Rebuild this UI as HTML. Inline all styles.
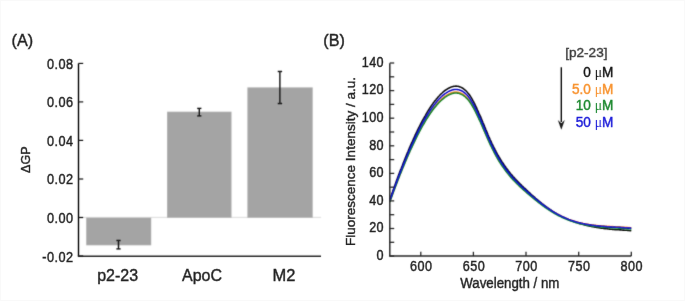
<!DOCTYPE html>
<html><head><meta charset="utf-8"><style>
html,body{margin:0;padding:0;background:#fff;}
body{width:685px;height:301px;overflow:hidden;}
svg{display:block;will-change:transform;}
text{font-family:"Liberation Sans", sans-serif;fill:#1e1e1e;stroke:#1e1e1e;stroke-width:0.38px;}
</style></head><body>
<svg width="685" height="301" viewBox="0 0 685 301">
<defs><filter id="bl" x="0" y="0" width="685" height="301" filterUnits="userSpaceOnUse"><feConvolveMatrix order="3" kernelMatrix="1 4 1 4 16 4 1 4 1" divisor="36" edgeMode="duplicate"/></filter><filter id="bm" x="0" y="0" width="685" height="301" filterUnits="userSpaceOnUse"><feConvolveMatrix order="3" kernelMatrix="1 7 1 7 49 7 1 7 1" divisor="81" edgeMode="none"/></filter><filter id="bt" x="0" y="0" width="685" height="301" filterUnits="userSpaceOnUse"><feConvolveMatrix order="3" kernelMatrix="0 1 0 1 40 1 0 1 0" divisor="44" edgeMode="none"/></filter></defs>
<rect width="685" height="301" fill="#fff"/>
<g filter="url(#bl)">
<rect width="685" height="301" fill="#fff"/>
<line x1="78.5" y1="217.4" x2="321" y2="217.4" stroke="#dadada" stroke-width="1"/>
<rect x="86.2" y="217.7" width="65" height="27.6" fill="#a4a4a4"/>
<rect x="167.1" y="111.7" width="64.4" height="106.0" fill="#a4a4a4"/>
<rect x="247.4" y="87.4" width="65.3" height="130.3" fill="#a4a4a4"/>
</g>
<g filter="url(#bm)">
<path d="M389.8,199.7 L390.4,198.0 L391.0,196.3 L391.6,194.6 L392.2,192.9 L392.8,191.2 L393.4,189.5 L394.0,187.8 L394.6,186.1 L395.2,184.4 L395.8,182.8 L396.4,181.1 L397.0,179.5 L397.6,177.9 L398.2,176.2 L398.8,174.6 L399.4,173.0 L400.0,171.4 L400.6,169.9 L401.3,168.3 L401.9,166.7 L402.5,165.2 L403.1,163.6 L403.7,162.1 L404.3,160.6 L404.9,159.1 L405.5,157.6 L406.1,156.1 L406.7,154.6 L407.3,153.1 L407.9,151.7 L408.5,150.2 L409.1,148.8 L409.7,147.4 L410.3,146.0 L410.9,144.6 L411.5,143.2 L412.2,141.9 L412.8,140.5 L413.4,139.2 L414.0,137.8 L414.6,136.5 L415.2,135.2 L415.8,133.9 L416.4,132.6 L417.0,131.4 L417.6,130.1 L418.2,128.9 L418.8,127.7 L419.4,126.5 L420.0,125.3 L420.6,124.1 L421.2,123.0 L421.8,121.8 L422.4,120.7 L423.0,119.6 L423.7,118.5 L424.3,117.4 L424.9,116.3 L425.5,115.3 L426.1,114.2 L426.7,113.2 L427.3,112.2 L427.9,111.2 L428.5,110.2 L429.1,109.3 L429.7,108.3 L430.3,107.4 L430.9,106.5 L431.5,105.6 L432.1,104.7 L432.7,103.9 L433.3,103.0 L433.9,102.2 L434.5,101.4 L435.2,100.6 L435.8,99.9 L436.4,99.1 L437.0,98.4 L437.6,97.7 L438.2,97.0 L438.8,96.3 L439.4,95.7 L440.0,95.0 L440.6,94.4 L441.2,93.8 L441.8,93.3 L442.4,92.7 L443.0,92.2 L443.6,91.7 L444.2,91.2 L444.8,90.7 L445.4,90.2 L446.1,89.8 L446.7,89.4 L447.3,89.0 L447.9,88.6 L448.5,88.3 L449.1,88.0 L449.7,87.7 L450.3,87.4 L450.9,87.1 L451.5,86.9 L452.1,86.7 L452.7,86.6 L453.3,86.4 L453.9,86.3 L454.5,86.2 L455.1,86.2 L455.7,86.1 L456.3,86.1 L456.9,86.2 L457.6,86.2 L458.2,86.3 L458.8,86.5 L459.4,86.7 L460.0,86.9 L460.6,87.1 L461.2,87.4 L461.8,87.7 L462.4,88.0 L463.0,88.4 L463.6,88.8 L464.2,89.3 L464.8,89.8 L465.4,90.3 L466.0,90.9 L466.6,91.5 L467.2,92.2 L467.8,92.9 L468.5,93.7 L469.1,94.5 L469.7,95.3 L470.3,96.2 L470.9,97.2 L471.5,98.2 L472.1,99.2 L472.7,100.3 L473.3,101.4 L473.9,102.5 L474.5,103.7 L475.1,104.9 L475.7,106.2 L476.3,107.4 L476.9,108.7 L477.5,110.1 L478.1,111.4 L478.7,112.8 L479.3,114.1 L480.0,115.5 L480.6,116.9 L481.2,118.4 L481.8,119.8 L482.4,121.2 L483.0,122.7 L483.6,124.1 L484.2,125.6 L484.8,127.1 L485.4,128.5 L486.0,130.0 L486.6,131.4 L487.2,132.8 L487.8,134.3 L488.4,135.7 L489.0,137.1 L489.6,138.4 L490.2,139.8 L490.9,141.1 L491.5,142.5 L492.1,143.8 L492.7,145.0 L493.3,146.3 L493.9,147.5 L494.5,148.7 L495.1,149.9 L495.7,151.0 L496.3,152.2 L496.9,153.3 L497.5,154.4 L498.1,155.4 L498.7,156.5 L499.3,157.5 L499.9,158.5 L500.5,159.5 L501.1,160.5 L501.7,161.5 L502.4,162.4 L503.0,163.3 L503.6,164.2 L504.2,165.1 L504.8,166.0 L505.4,166.8 L506.0,167.7 L506.6,168.5 L507.2,169.3 L507.8,170.1 L508.4,170.9 L509.0,171.6 L509.6,172.4 L510.2,173.1 L510.8,173.9 L511.4,174.6 L512.0,175.3 L512.6,176.0 L513.2,176.7 L513.9,177.4 L514.5,178.0 L515.1,178.7 L515.7,179.3 L516.3,180.0 L516.9,180.6 L517.5,181.2 L518.1,181.9 L518.7,182.5 L519.3,183.1 L519.9,183.7 L520.5,184.3 L521.1,184.9 L521.7,185.5 L522.3,186.0 L522.9,186.6 L523.5,187.2 L524.1,187.8 L524.8,188.4 L525.4,188.9 L526.0,189.5 L526.6,190.1 L527.2,190.6 L527.8,191.2 L528.4,191.8 L529.0,192.3 L529.6,192.9 L530.2,193.4 L530.8,194.0 L531.4,194.5 L532.0,195.1 L532.6,195.6 L533.2,196.1 L533.8,196.7 L534.4,197.2 L535.0,197.7 L535.6,198.3 L536.3,198.8 L536.9,199.3 L537.5,199.8 L538.1,200.3 L538.7,200.8 L539.3,201.3 L539.9,201.8 L540.5,202.3 L541.1,202.8 L541.7,203.3 L542.3,203.8 L542.9,204.2 L543.5,204.7 L544.1,205.2 L544.7,205.6 L545.3,206.1 L545.9,206.5 L546.5,207.0 L547.2,207.4 L547.8,207.9 L548.4,208.3 L549.0,208.7 L549.6,209.1 L550.2,209.6 L550.8,210.0 L551.4,210.4 L552.0,210.8 L552.6,211.2 L553.2,211.6 L553.8,211.9 L554.4,212.3 L555.0,212.7 L555.6,213.0 L556.2,213.4 L556.8,213.8 L557.4,214.1 L558.0,214.4 L558.7,214.8 L559.3,215.1 L559.9,215.4 L560.5,215.8 L561.1,216.1 L561.7,216.4 L562.3,216.7 L562.9,217.0 L563.5,217.3 L564.1,217.6 L564.7,217.8 L565.3,218.1 L565.9,218.4 L566.5,218.7 L567.1,218.9 L567.7,219.2 L568.3,219.5 L568.9,219.7 L569.6,220.0 L570.2,220.2 L570.8,220.4 L571.4,220.7 L572.0,220.9 L572.6,221.1 L573.2,221.4 L573.8,221.6 L574.4,221.8 L575.0,222.0 L575.6,222.2 L576.2,222.4 L576.8,222.6 L577.4,222.8 L578.0,223.0 L578.6,223.2 L579.2,223.4 L579.8,223.6 L580.4,223.7 L581.1,223.9 L581.7,224.1 L582.3,224.3 L582.9,224.4 L583.5,224.6 L584.1,224.8 L584.7,224.9 L585.3,225.1 L585.9,225.2 L586.5,225.4 L587.1,225.5 L587.7,225.7 L588.3,225.8 L588.9,225.9 L589.5,226.1 L590.1,226.2 L590.7,226.3 L591.3,226.4 L591.9,226.6 L592.6,226.7 L593.2,226.8 L593.8,226.9 L594.4,227.0 L595.0,227.1 L595.6,227.2 L596.2,227.3 L596.8,227.5 L597.4,227.5 L598.0,227.6 L598.6,227.7 L599.2,227.8 L599.8,227.9 L600.4,228.0 L601.0,228.1 L601.6,228.2 L602.2,228.3 L602.8,228.3 L603.5,228.4 L604.1,228.5 L604.7,228.6 L605.3,228.6 L605.9,228.7 L606.5,228.8 L607.1,228.8 L607.7,228.9 L608.3,229.0 L608.9,229.0 L609.5,229.1 L610.1,229.1 L610.7,229.2 L611.3,229.3 L611.9,229.3 L612.5,229.4 L613.1,229.4 L613.7,229.5 L614.3,229.5 L615.0,229.6 L615.6,229.6 L616.2,229.6 L616.8,229.7 L617.4,229.7 L618.0,229.8 L618.6,229.8 L619.2,229.8 L619.8,229.9 L620.4,229.9 L621.0,229.9 L621.6,230.0 L622.2,230.0 L622.8,230.1 L623.4,230.1 L624.0,230.1 L624.6,230.2 L625.2,230.2 L625.9,230.2 L626.5,230.3 L627.1,230.3 L627.7,230.4 L628.3,230.4 L628.9,230.5 L629.5,230.5 L630.1,230.6 L630.7,230.6 L631.3,230.7" fill="none" stroke="#111111" stroke-width="1.6" stroke-linejoin="round"/>
<path d="M389.8,201.7 L390.4,200.0 L391.0,198.4 L391.6,196.7 L392.2,195.1 L392.8,193.4 L393.4,191.8 L394.0,190.2 L394.6,188.5 L395.2,186.9 L395.8,185.3 L396.4,183.7 L397.0,182.2 L397.6,180.6 L398.2,179.0 L398.8,177.5 L399.4,175.9 L400.0,174.4 L400.6,172.9 L401.3,171.3 L401.9,169.8 L402.5,168.3 L403.1,166.8 L403.7,165.4 L404.3,163.9 L404.9,162.4 L405.5,161.0 L406.1,159.6 L406.7,158.1 L407.3,156.7 L407.9,155.3 L408.5,153.9 L409.1,152.6 L409.7,151.2 L410.3,149.8 L410.9,148.5 L411.5,147.2 L412.2,145.8 L412.8,144.5 L413.4,143.2 L414.0,141.9 L414.6,140.7 L415.2,139.4 L415.8,138.2 L416.4,136.9 L417.0,135.7 L417.6,134.5 L418.2,133.3 L418.8,132.2 L419.4,131.0 L420.0,129.8 L420.6,128.7 L421.2,127.6 L421.8,126.5 L422.4,125.4 L423.0,124.3 L423.7,123.3 L424.3,122.2 L424.9,121.2 L425.5,120.2 L426.1,119.2 L426.7,118.2 L427.3,117.2 L427.9,116.2 L428.5,115.3 L429.1,114.4 L429.7,113.5 L430.3,112.6 L430.9,111.7 L431.5,110.8 L432.1,110.0 L432.7,109.2 L433.3,108.4 L433.9,107.6 L434.5,106.8 L435.2,106.1 L435.8,105.3 L436.4,104.6 L437.0,103.9 L437.6,103.2 L438.2,102.5 L438.8,101.9 L439.4,101.3 L440.0,100.7 L440.6,100.1 L441.2,99.5 L441.8,98.9 L442.4,98.4 L443.0,97.9 L443.6,97.4 L444.2,96.9 L444.8,96.4 L445.4,96.0 L446.1,95.6 L446.7,95.2 L447.3,94.8 L447.9,94.5 L448.5,94.1 L449.1,93.8 L449.7,93.5 L450.3,93.3 L450.9,93.0 L451.5,92.8 L452.1,92.6 L452.7,92.5 L453.3,92.3 L453.9,92.2 L454.5,92.1 L455.1,92.1 L455.7,92.1 L456.3,92.1 L456.9,92.1 L457.6,92.2 L458.2,92.3 L458.8,92.4 L459.4,92.6 L460.0,92.7 L460.6,93.0 L461.2,93.2 L461.8,93.5 L462.4,93.9 L463.0,94.2 L463.6,94.7 L464.2,95.1 L464.8,95.6 L465.4,96.1 L466.0,96.7 L466.6,97.3 L467.2,97.9 L467.8,98.6 L468.5,99.3 L469.1,100.1 L469.7,100.9 L470.3,101.8 L470.9,102.7 L471.5,103.7 L472.1,104.7 L472.7,105.7 L473.3,106.8 L473.9,107.9 L474.5,109.0 L475.1,110.2 L475.7,111.4 L476.3,112.6 L476.9,113.9 L477.5,115.1 L478.1,116.4 L478.7,117.8 L479.3,119.1 L480.0,120.4 L480.6,121.8 L481.2,123.2 L481.8,124.6 L482.4,125.9 L483.0,127.3 L483.6,128.7 L484.2,130.1 L484.8,131.6 L485.4,133.0 L486.0,134.3 L486.6,135.7 L487.2,137.1 L487.8,138.5 L488.4,139.9 L489.0,141.2 L489.6,142.5 L490.2,143.8 L490.9,145.1 L491.5,146.4 L492.1,147.7 L492.7,148.9 L493.3,150.1 L493.9,151.3 L494.5,152.4 L495.1,153.6 L495.7,154.7 L496.3,155.8 L496.9,156.9 L497.5,157.9 L498.1,158.9 L498.7,160.0 L499.3,161.0 L499.9,161.9 L500.5,162.9 L501.1,163.8 L501.7,164.7 L502.4,165.7 L503.0,166.5 L503.6,167.4 L504.2,168.3 L504.8,169.1 L505.4,169.9 L506.0,170.7 L506.6,171.5 L507.2,172.3 L507.8,173.1 L508.4,173.8 L509.0,174.6 L509.6,175.3 L510.2,176.0 L510.8,176.7 L511.4,177.4 L512.0,178.1 L512.6,178.8 L513.2,179.5 L513.9,180.1 L514.5,180.8 L515.1,181.4 L515.7,182.0 L516.3,182.6 L516.9,183.2 L517.5,183.8 L518.1,184.4 L518.7,185.0 L519.3,185.6 L519.9,186.2 L520.5,186.7 L521.1,187.3 L521.7,187.8 L522.3,188.4 L522.9,188.9 L523.5,189.5 L524.1,190.0 L524.8,190.5 L525.4,191.1 L526.0,191.6 L526.6,192.1 L527.2,192.6 L527.8,193.2 L528.4,193.7 L529.0,194.2 L529.6,194.7 L530.2,195.2 L530.8,195.7 L531.4,196.2 L532.0,196.7 L532.6,197.2 L533.2,197.7 L533.8,198.2 L534.4,198.7 L535.0,199.1 L535.6,199.6 L536.3,200.1 L536.9,200.6 L537.5,201.0 L538.1,201.5 L538.7,202.0 L539.3,202.4 L539.9,202.9 L540.5,203.3 L541.1,203.8 L541.7,204.2 L542.3,204.7 L542.9,205.1 L543.5,205.5 L544.1,205.9 L544.7,206.4 L545.3,206.8 L545.9,207.2 L546.5,207.6 L547.2,208.0 L547.8,208.4 L548.4,208.8 L549.0,209.2 L549.6,209.6 L550.2,210.0 L550.8,210.4 L551.4,210.8 L552.0,211.1 L552.6,211.5 L553.2,211.9 L553.8,212.2 L554.4,212.6 L555.0,212.9 L555.6,213.3 L556.2,213.6 L556.8,213.9 L557.4,214.3 L558.0,214.6 L558.7,214.9 L559.3,215.2 L559.9,215.5 L560.5,215.8 L561.1,216.1 L561.7,216.4 L562.3,216.7 L562.9,217.0 L563.5,217.2 L564.1,217.5 L564.7,217.8 L565.3,218.0 L565.9,218.3 L566.5,218.5 L567.1,218.8 L567.7,219.0 L568.3,219.2 L568.9,219.5 L569.6,219.7 L570.2,219.9 L570.8,220.1 L571.4,220.3 L572.0,220.5 L572.6,220.7 L573.2,220.9 L573.8,221.1 L574.4,221.3 L575.0,221.5 L575.6,221.6 L576.2,221.8 L576.8,222.0 L577.4,222.1 L578.0,222.3 L578.6,222.4 L579.2,222.6 L579.8,222.7 L580.4,222.9 L581.1,223.0 L581.7,223.2 L582.3,223.3 L582.9,223.4 L583.5,223.5 L584.1,223.7 L584.7,223.8 L585.3,223.9 L585.9,224.0 L586.5,224.1 L587.1,224.2 L587.7,224.3 L588.3,224.4 L588.9,224.5 L589.5,224.6 L590.1,224.7 L590.7,224.8 L591.3,224.9 L591.9,224.9 L592.6,225.0 L593.2,225.1 L593.8,225.2 L594.4,225.2 L595.0,225.3 L595.6,225.4 L596.2,225.4 L596.8,225.5 L597.4,225.6 L598.0,225.6 L598.6,225.7 L599.2,225.7 L599.8,225.8 L600.4,225.8 L601.0,225.9 L601.6,225.9 L602.2,226.0 L602.8,226.0 L603.5,226.1 L604.1,226.1 L604.7,226.1 L605.3,226.2 L605.9,226.2 L606.5,226.3 L607.1,226.3 L607.7,226.3 L608.3,226.4 L608.9,226.4 L609.5,226.4 L610.1,226.5 L610.7,226.5 L611.3,226.5 L611.9,226.6 L612.5,226.6 L613.1,226.6 L613.7,226.7 L614.3,226.7 L615.0,226.7 L615.6,226.8 L616.2,226.8 L616.8,226.8 L617.4,226.9 L618.0,226.9 L618.6,226.9 L619.2,226.9 L619.8,227.0 L620.4,227.0 L621.0,227.1 L621.6,227.1 L622.2,227.1 L622.8,227.2 L623.4,227.2 L624.0,227.2 L624.6,227.3 L625.2,227.3 L625.9,227.3 L626.5,227.4 L627.1,227.4 L627.7,227.5 L628.3,227.5 L628.9,227.6 L629.5,227.6 L630.1,227.7 L630.7,227.7 L631.3,227.8" fill="none" stroke="#f8902a" stroke-width="1.6" stroke-linejoin="round"/>
<path d="M389.8,202.0 L390.4,200.3 L391.0,198.7 L391.6,197.0 L392.2,195.4 L392.8,193.8 L393.4,192.1 L394.0,190.5 L394.6,188.9 L395.2,187.3 L395.8,185.7 L396.4,184.2 L397.0,182.6 L397.6,181.0 L398.2,179.5 L398.8,177.9 L399.4,176.4 L400.0,174.8 L400.6,173.3 L401.3,171.8 L401.9,170.3 L402.5,168.8 L403.1,167.3 L403.7,165.9 L404.3,164.4 L404.9,163.0 L405.5,161.5 L406.1,160.1 L406.7,158.7 L407.3,157.3 L407.9,155.9 L408.5,154.5 L409.1,153.1 L409.7,151.8 L410.3,150.4 L410.9,149.1 L411.5,147.8 L412.2,146.5 L412.8,145.2 L413.4,143.9 L414.0,142.6 L414.6,141.3 L415.2,140.1 L415.8,138.8 L416.4,137.6 L417.0,136.4 L417.6,135.2 L418.2,134.0 L418.8,132.9 L419.4,131.7 L420.0,130.6 L420.6,129.4 L421.2,128.3 L421.8,127.2 L422.4,126.1 L423.0,125.1 L423.7,124.0 L424.3,123.0 L424.9,121.9 L425.5,120.9 L426.1,119.9 L426.7,118.9 L427.3,118.0 L427.9,117.0 L428.5,116.1 L429.1,115.2 L429.7,114.3 L430.3,113.4 L430.9,112.5 L431.5,111.7 L432.1,110.8 L432.7,110.0 L433.3,109.2 L433.9,108.4 L434.5,107.6 L435.2,106.9 L435.8,106.2 L436.4,105.4 L437.0,104.7 L437.6,104.1 L438.2,103.4 L438.8,102.8 L439.4,102.1 L440.0,101.5 L440.6,100.9 L441.2,100.4 L441.8,99.8 L442.4,99.3 L443.0,98.8 L443.6,98.3 L444.2,97.8 L444.8,97.3 L445.4,96.9 L446.1,96.5 L446.7,96.1 L447.3,95.7 L447.9,95.4 L448.5,95.0 L449.1,94.7 L449.7,94.4 L450.3,94.2 L450.9,93.9 L451.5,93.7 L452.1,93.5 L452.7,93.4 L453.3,93.2 L453.9,93.1 L454.5,93.0 L455.1,93.0 L455.7,93.0 L456.3,93.0 L456.9,93.0 L457.6,93.1 L458.2,93.2 L458.8,93.3 L459.4,93.5 L460.0,93.7 L460.6,93.9 L461.2,94.2 L461.8,94.4 L462.4,94.8 L463.0,95.2 L463.6,95.6 L464.2,96.0 L464.8,96.5 L465.4,97.0 L466.0,97.6 L466.6,98.2 L467.2,98.8 L467.8,99.5 L468.5,100.2 L469.1,101.0 L469.7,101.8 L470.3,102.7 L470.9,103.6 L471.5,104.5 L472.1,105.5 L472.7,106.5 L473.3,107.6 L473.9,108.7 L474.5,109.8 L475.1,111.0 L475.7,112.2 L476.3,113.4 L476.9,114.7 L477.5,115.9 L478.1,117.2 L478.7,118.5 L479.3,119.9 L480.0,121.2 L480.6,122.5 L481.2,123.9 L481.8,125.3 L482.4,126.7 L483.0,128.1 L483.6,129.5 L484.2,130.9 L484.8,132.2 L485.4,133.6 L486.0,135.0 L486.6,136.4 L487.2,137.8 L487.8,139.2 L488.4,140.5 L489.0,141.8 L489.6,143.2 L490.2,144.5 L490.9,145.8 L491.5,147.0 L492.1,148.3 L492.7,149.5 L493.3,150.7 L493.9,151.9 L494.5,153.0 L495.1,154.1 L495.7,155.3 L496.3,156.3 L496.9,157.4 L497.5,158.5 L498.1,159.5 L498.7,160.5 L499.3,161.5 L499.9,162.5 L500.5,163.4 L501.1,164.3 L501.7,165.3 L502.4,166.2 L503.0,167.0 L503.6,167.9 L504.2,168.8 L504.8,169.6 L505.4,170.4 L506.0,171.2 L506.6,172.0 L507.2,172.8 L507.8,173.6 L508.4,174.3 L509.0,175.0 L509.6,175.8 L510.2,176.5 L510.8,177.2 L511.4,177.9 L512.0,178.6 L512.6,179.2 L513.2,179.9 L513.9,180.5 L514.5,181.2 L515.1,181.8 L515.7,182.4 L516.3,183.0 L516.9,183.6 L517.5,184.2 L518.1,184.8 L518.7,185.4 L519.3,186.0 L519.9,186.6 L520.5,187.1 L521.1,187.7 L521.7,188.2 L522.3,188.8 L522.9,189.3 L523.5,189.9 L524.1,190.4 L524.8,191.0 L525.4,191.5 L526.0,192.0 L526.6,192.6 L527.2,193.1 L527.8,193.6 L528.4,194.1 L529.0,194.7 L529.6,195.2 L530.2,195.7 L530.8,196.2 L531.4,196.7 L532.0,197.2 L532.6,197.7 L533.2,198.2 L533.8,198.7 L534.4,199.2 L535.0,199.7 L535.6,200.2 L536.3,200.7 L536.9,201.2 L537.5,201.6 L538.1,202.1 L538.7,202.6 L539.3,203.0 L539.9,203.5 L540.5,204.0 L541.1,204.4 L541.7,204.9 L542.3,205.3 L542.9,205.8 L543.5,206.2 L544.1,206.6 L544.7,207.1 L545.3,207.5 L545.9,207.9 L546.5,208.3 L547.2,208.8 L547.8,209.2 L548.4,209.6 L549.0,210.0 L549.6,210.4 L550.2,210.8 L550.8,211.2 L551.4,211.5 L552.0,211.9 L552.6,212.3 L553.2,212.6 L553.8,213.0 L554.4,213.4 L555.0,213.7 L555.6,214.0 L556.2,214.4 L556.8,214.7 L557.4,215.0 L558.0,215.4 L558.7,215.7 L559.3,216.0 L559.9,216.3 L560.5,216.6 L561.1,216.9 L561.7,217.2 L562.3,217.5 L562.9,217.7 L563.5,218.0 L564.1,218.3 L564.7,218.5 L565.3,218.8 L565.9,219.1 L566.5,219.3 L567.1,219.5 L567.7,219.8 L568.3,220.0 L568.9,220.3 L569.6,220.5 L570.2,220.7 L570.8,220.9 L571.4,221.1 L572.0,221.3 L572.6,221.5 L573.2,221.7 L573.8,221.9 L574.4,222.1 L575.0,222.3 L575.6,222.5 L576.2,222.7 L576.8,222.8 L577.4,223.0 L578.0,223.2 L578.6,223.3 L579.2,223.5 L579.8,223.6 L580.4,223.8 L581.1,223.9 L581.7,224.1 L582.3,224.2 L582.9,224.3 L583.5,224.4 L584.1,224.6 L584.7,224.7 L585.3,224.8 L585.9,224.9 L586.5,225.0 L587.1,225.2 L587.7,225.3 L588.3,225.4 L588.9,225.5 L589.5,225.6 L590.1,225.7 L590.7,225.7 L591.3,225.8 L591.9,225.9 L592.6,226.0 L593.2,226.1 L593.8,226.2 L594.4,226.2 L595.0,226.3 L595.6,226.4 L596.2,226.5 L596.8,226.5 L597.4,226.6 L598.0,226.7 L598.6,226.7 L599.2,226.8 L599.8,226.8 L600.4,226.9 L601.0,226.9 L601.6,227.0 L602.2,227.1 L602.8,227.1 L603.5,227.2 L604.1,227.2 L604.7,227.2 L605.3,227.3 L605.9,227.3 L606.5,227.4 L607.1,227.4 L607.7,227.5 L608.3,227.5 L608.9,227.5 L609.5,227.6 L610.1,227.6 L610.7,227.6 L611.3,227.7 L611.9,227.7 L612.5,227.8 L613.1,227.8 L613.7,227.8 L614.3,227.9 L615.0,227.9 L615.6,227.9 L616.2,228.0 L616.8,228.0 L617.4,228.0 L618.0,228.1 L618.6,228.1 L619.2,228.1 L619.8,228.2 L620.4,228.2 L621.0,228.2 L621.6,228.3 L622.2,228.3 L622.8,228.3 L623.4,228.4 L624.0,228.4 L624.6,228.4 L625.2,228.5 L625.9,228.5 L626.5,228.6 L627.1,228.6 L627.7,228.6 L628.3,228.7 L628.9,228.7 L629.5,228.8 L630.1,228.8 L630.7,228.9 L631.3,228.9" fill="none" stroke="#18862a" stroke-width="1.6" stroke-linejoin="round"/>
<path d="M389.8,200.8 L390.4,199.1 L391.0,197.5 L391.6,195.8 L392.2,194.1 L392.8,192.4 L393.4,190.8 L394.0,189.1 L394.6,187.5 L395.2,185.8 L395.8,184.2 L396.4,182.6 L397.0,181.0 L397.6,179.4 L398.2,177.8 L398.8,176.2 L399.4,174.7 L400.0,173.1 L400.6,171.5 L401.3,170.0 L401.9,168.5 L402.5,167.0 L403.1,165.4 L403.7,163.9 L404.3,162.4 L404.9,161.0 L405.5,159.5 L406.1,158.0 L406.7,156.6 L407.3,155.2 L407.9,153.7 L408.5,152.3 L409.1,150.9 L409.7,149.5 L410.3,148.2 L410.9,146.8 L411.5,145.4 L412.2,144.1 L412.8,142.8 L413.4,141.5 L414.0,140.2 L414.6,138.9 L415.2,137.6 L415.8,136.3 L416.4,135.1 L417.0,133.8 L417.6,132.6 L418.2,131.4 L418.8,130.2 L419.4,129.0 L420.0,127.9 L420.6,126.7 L421.2,125.6 L421.8,124.4 L422.4,123.3 L423.0,122.2 L423.7,121.2 L424.3,120.1 L424.9,119.0 L425.5,118.0 L426.1,117.0 L426.7,116.0 L427.3,115.0 L427.9,114.0 L428.5,113.1 L429.1,112.1 L429.7,111.2 L430.3,110.3 L430.9,109.4 L431.5,108.6 L432.1,107.7 L432.7,106.9 L433.3,106.0 L433.9,105.2 L434.5,104.5 L435.2,103.7 L435.8,102.9 L436.4,102.2 L437.0,101.5 L437.6,100.8 L438.2,100.1 L438.8,99.5 L439.4,98.8 L440.0,98.2 L440.6,97.6 L441.2,97.0 L441.8,96.5 L442.4,95.9 L443.0,95.4 L443.6,94.9 L444.2,94.4 L444.8,93.9 L445.4,93.5 L446.1,93.1 L446.7,92.7 L447.3,92.3 L447.9,91.9 L448.5,91.6 L449.1,91.3 L449.7,91.0 L450.3,90.7 L450.9,90.5 L451.5,90.2 L452.1,90.0 L452.7,89.9 L453.3,89.7 L453.9,89.6 L454.5,89.5 L455.1,89.5 L455.7,89.5 L456.3,89.5 L456.9,89.5 L457.6,89.6 L458.2,89.7 L458.8,89.8 L459.4,90.0 L460.0,90.2 L460.6,90.4 L461.2,90.7 L461.8,91.0 L462.4,91.3 L463.0,91.7 L463.6,92.1 L464.2,92.6 L464.8,93.1 L465.4,93.6 L466.0,94.2 L466.6,94.8 L467.2,95.4 L467.8,96.1 L468.5,96.9 L469.1,97.7 L469.7,98.5 L470.3,99.4 L470.9,100.3 L471.5,101.3 L472.1,102.3 L472.7,103.3 L473.3,104.4 L473.9,105.5 L474.5,106.7 L475.1,107.9 L475.7,109.1 L476.3,110.4 L476.9,111.6 L477.5,112.9 L478.1,114.2 L478.7,115.6 L479.3,116.9 L480.0,118.3 L480.6,119.7 L481.2,121.1 L481.8,122.5 L482.4,123.9 L483.0,125.3 L483.6,126.7 L484.2,128.2 L484.8,129.6 L485.4,131.0 L486.0,132.4 L486.6,133.8 L487.2,135.2 L487.8,136.6 L488.4,138.0 L489.0,139.4 L489.6,140.7 L490.2,142.1 L490.9,143.4 L491.5,144.7 L492.1,146.0 L492.7,147.2 L493.3,148.4 L493.9,149.6 L494.5,150.8 L495.1,152.0 L495.7,153.1 L496.3,154.2 L496.9,155.3 L497.5,156.4 L498.1,157.4 L498.7,158.4 L499.3,159.5 L499.9,160.4 L500.5,161.4 L501.1,162.4 L501.7,163.3 L502.4,164.2 L503.0,165.1 L503.6,166.0 L504.2,166.9 L504.8,167.7 L505.4,168.6 L506.0,169.4 L506.6,170.2 L507.2,171.0 L507.8,171.8 L508.4,172.6 L509.0,173.3 L509.6,174.0 L510.2,174.8 L510.8,175.5 L511.4,176.2 L512.0,176.9 L512.6,177.6 L513.2,178.2 L513.9,178.9 L514.5,179.6 L515.1,180.2 L515.7,180.8 L516.3,181.5 L516.9,182.1 L517.5,182.7 L518.1,183.3 L518.7,183.9 L519.3,184.5 L519.9,185.1 L520.5,185.7 L521.1,186.2 L521.7,186.8 L522.3,187.4 L522.9,187.9 L523.5,188.5 L524.1,189.0 L524.8,189.6 L525.4,190.1 L526.0,190.7 L526.6,191.2 L527.2,191.8 L527.8,192.3 L528.4,192.8 L529.0,193.4 L529.6,193.9 L530.2,194.4 L530.8,194.9 L531.4,195.5 L532.0,196.0 L532.6,196.5 L533.2,197.0 L533.8,197.5 L534.4,198.0 L535.0,198.5 L535.6,199.0 L536.3,199.5 L536.9,200.0 L537.5,200.5 L538.1,201.0 L538.7,201.5 L539.3,201.9 L539.9,202.4 L540.5,202.9 L541.1,203.3 L541.7,203.8 L542.3,204.3 L542.9,204.7 L543.5,205.2 L544.1,205.6 L544.7,206.0 L545.3,206.5 L545.9,206.9 L546.5,207.3 L547.2,207.8 L547.8,208.2 L548.4,208.6 L549.0,209.0 L549.6,209.4 L550.2,209.8 L550.8,210.2 L551.4,210.6 L552.0,211.0 L552.6,211.4 L553.2,211.7 L553.8,212.1 L554.4,212.5 L555.0,212.8 L555.6,213.2 L556.2,213.5 L556.8,213.9 L557.4,214.2 L558.0,214.5 L558.7,214.8 L559.3,215.2 L559.9,215.5 L560.5,215.8 L561.1,216.1 L561.7,216.4 L562.3,216.7 L562.9,217.0 L563.5,217.2 L564.1,217.5 L564.7,217.8 L565.3,218.0 L565.9,218.3 L566.5,218.5 L567.1,218.8 L567.7,219.0 L568.3,219.3 L568.9,219.5 L569.6,219.7 L570.2,219.9 L570.8,220.2 L571.4,220.4 L572.0,220.6 L572.6,220.8 L573.2,221.0 L573.8,221.2 L574.4,221.4 L575.0,221.5 L575.6,221.7 L576.2,221.9 L576.8,222.1 L577.4,222.2 L578.0,222.4 L578.6,222.6 L579.2,222.7 L579.8,222.9 L580.4,223.0 L581.1,223.2 L581.7,223.3 L582.3,223.4 L582.9,223.6 L583.5,223.7 L584.1,223.8 L584.7,223.9 L585.3,224.1 L585.9,224.2 L586.5,224.3 L587.1,224.4 L587.7,224.5 L588.3,224.6 L588.9,224.7 L589.5,224.8 L590.1,224.9 L590.7,225.0 L591.3,225.1 L591.9,225.2 L592.6,225.2 L593.2,225.3 L593.8,225.4 L594.4,225.5 L595.0,225.6 L595.6,225.6 L596.2,225.7 L596.8,225.8 L597.4,225.8 L598.0,225.9 L598.6,226.0 L599.2,226.0 L599.8,226.1 L600.4,226.1 L601.0,226.2 L601.6,226.2 L602.2,226.3 L602.8,226.3 L603.5,226.4 L604.1,226.4 L604.7,226.5 L605.3,226.5 L605.9,226.6 L606.5,226.6 L607.1,226.7 L607.7,226.7 L608.3,226.7 L608.9,226.8 L609.5,226.8 L610.1,226.9 L610.7,226.9 L611.3,226.9 L611.9,227.0 L612.5,227.0 L613.1,227.0 L613.7,227.1 L614.3,227.1 L615.0,227.1 L615.6,227.2 L616.2,227.2 L616.8,227.2 L617.4,227.3 L618.0,227.3 L618.6,227.3 L619.2,227.4 L619.8,227.4 L620.4,227.4 L621.0,227.5 L621.6,227.5 L622.2,227.5 L622.8,227.6 L623.4,227.6 L624.0,227.6 L624.6,227.7 L625.2,227.7 L625.9,227.8 L626.5,227.8 L627.1,227.8 L627.7,227.9 L628.3,227.9 L628.9,228.0 L629.5,228.0 L630.1,228.1 L630.7,228.1 L631.3,228.2" fill="none" stroke="#0c0cc8" stroke-width="1.6" stroke-linejoin="round"/>
<line x1="118.5" y1="240.5" x2="118.5" y2="248.9" stroke="#1a1a1a" stroke-width="1.45"/><line x1="116.4" y1="240.5" x2="120.6" y2="240.5" stroke="#1a1a1a" stroke-width="1.45"/><line x1="116.4" y1="248.9" x2="120.6" y2="248.9" stroke="#1a1a1a" stroke-width="1.45"/>
<line x1="199.3" y1="108.4" x2="199.3" y2="115.9" stroke="#1a1a1a" stroke-width="1.45"/><line x1="197.20000000000002" y1="108.4" x2="201.4" y2="108.4" stroke="#1a1a1a" stroke-width="1.45"/><line x1="197.20000000000002" y1="115.9" x2="201.4" y2="115.9" stroke="#1a1a1a" stroke-width="1.45"/>
<line x1="279.9" y1="71.5" x2="279.9" y2="103.5" stroke="#1a1a1a" stroke-width="1.45"/><line x1="277.7" y1="71.5" x2="282.09999999999997" y2="71.5" stroke="#1a1a1a" stroke-width="1.45"/><line x1="277.7" y1="103.5" x2="282.09999999999997" y2="103.5" stroke="#1a1a1a" stroke-width="1.45"/>
<path d="M78.5,63.4 V256.1" fill="none" stroke="#000" stroke-width="1.4"/>
<path d="M77.8,256.2 H321" fill="none" stroke="#2a2a2a" stroke-width="1.5"/>
<line x1="78.5" y1="63.4" x2="83.2" y2="63.4" stroke="#1a1a1a" stroke-width="1.2"/>
<line x1="78.5" y1="101.9" x2="83.2" y2="101.9" stroke="#1a1a1a" stroke-width="1.2"/>
<line x1="78.5" y1="140.4" x2="83.2" y2="140.4" stroke="#1a1a1a" stroke-width="1.2"/>
<line x1="78.5" y1="179.0" x2="83.2" y2="179.0" stroke="#1a1a1a" stroke-width="1.2"/>
<line x1="78.5" y1="217.5" x2="83.2" y2="217.5" stroke="#1a1a1a" stroke-width="1.2"/>
<line x1="78.5" y1="256.0" x2="83.2" y2="256.0" stroke="#1a1a1a" stroke-width="1.2"/>
<path d="M389.8,63.2 V256.1 H631.3" fill="none" stroke="#2a2a2a" stroke-width="1.5"/>
<line x1="389.8" y1="256.1" x2="394.2" y2="256.1" stroke="#2a2a2a" stroke-width="1.3"/>
<line x1="389.8" y1="242.3" x2="394.2" y2="242.3" stroke="#2a2a2a" stroke-width="1.3"/>
<line x1="389.8" y1="228.5" x2="394.2" y2="228.5" stroke="#2a2a2a" stroke-width="1.3"/>
<line x1="389.8" y1="214.7" x2="394.2" y2="214.7" stroke="#2a2a2a" stroke-width="1.3"/>
<line x1="389.8" y1="200.9" x2="394.2" y2="200.9" stroke="#2a2a2a" stroke-width="1.3"/>
<line x1="389.8" y1="187.2" x2="394.2" y2="187.2" stroke="#2a2a2a" stroke-width="1.3"/>
<line x1="389.8" y1="173.4" x2="394.2" y2="173.4" stroke="#2a2a2a" stroke-width="1.3"/>
<line x1="389.8" y1="159.6" x2="394.2" y2="159.6" stroke="#2a2a2a" stroke-width="1.3"/>
<line x1="389.8" y1="145.8" x2="394.2" y2="145.8" stroke="#2a2a2a" stroke-width="1.3"/>
<line x1="389.8" y1="132.0" x2="394.2" y2="132.0" stroke="#2a2a2a" stroke-width="1.3"/>
<line x1="389.8" y1="118.2" x2="394.2" y2="118.2" stroke="#2a2a2a" stroke-width="1.3"/>
<line x1="389.8" y1="104.4" x2="394.2" y2="104.4" stroke="#2a2a2a" stroke-width="1.3"/>
<line x1="389.8" y1="90.6" x2="394.2" y2="90.6" stroke="#2a2a2a" stroke-width="1.3"/>
<line x1="389.8" y1="76.8" x2="394.2" y2="76.8" stroke="#2a2a2a" stroke-width="1.3"/>
<line x1="389.8" y1="63.0" x2="394.2" y2="63.0" stroke="#2a2a2a" stroke-width="1.3"/>
<line x1="420.8" y1="256.1" x2="420.8" y2="251.8" stroke="#2a2a2a" stroke-width="1.3"/>
<line x1="473.4" y1="256.1" x2="473.4" y2="251.8" stroke="#2a2a2a" stroke-width="1.3"/>
<line x1="526.0" y1="256.1" x2="526.0" y2="251.8" stroke="#2a2a2a" stroke-width="1.3"/>
<line x1="578.7" y1="256.1" x2="578.7" y2="251.8" stroke="#2a2a2a" stroke-width="1.3"/>
<line x1="631.3" y1="256.1" x2="631.3" y2="251.8" stroke="#2a2a2a" stroke-width="1.3"/>
<line x1="561.3" y1="67.2" x2="561.3" y2="122" stroke="#000" stroke-width="1.35"/>
<path d="M557.8,120.1 L561.3,129.8 L564.8,120.1 L561.3,123.2 Z" fill="#1a1a1a"/>
</g>
<g filter="url(#bt)">
<text transform="translate(11.60,46.20) scale(1.0,0.99)" font-size="16.2">(A)</text>
<text transform="translate(73.45,68.90) scale(1.0,1.13)" font-size="12.7" text-anchor="end" letter-spacing="0.45">0.08</text>
<text transform="translate(73.45,107.42) scale(1.0,1.13)" font-size="12.7" text-anchor="end" letter-spacing="0.45">0.06</text>
<text transform="translate(73.45,145.94) scale(1.0,1.13)" font-size="12.7" text-anchor="end" letter-spacing="0.45">0.04</text>
<text transform="translate(73.45,184.46) scale(1.0,1.13)" font-size="12.7" text-anchor="end" letter-spacing="0.45">0.02</text>
<text transform="translate(73.45,222.98) scale(1.0,1.13)" font-size="12.7" text-anchor="end" letter-spacing="0.45">0.00</text>
<text transform="translate(73.45,261.50) scale(1.0,1.13)" font-size="12.7" text-anchor="end" letter-spacing="0.45">-0.02</text>
<text transform="translate(97.20,281.00) scale(1.0,1.03)" font-size="16">p2-23</text>
<text transform="translate(182.00,281.00) scale(1.0,1.03)" font-size="16">ApoC</text>
<text transform="translate(272.60,281.00) scale(1.0,1.03)" font-size="16.5">M2</text>
<text transform="translate(29.70,159.60) rotate(-90)" font-size="12.6" text-anchor="middle">&#916;GP</text>
<text transform="translate(323.30,46.20) scale(1.0,0.99)" font-size="16.2">(B)</text>
<text transform="translate(384.05,259.85) scale(1.0,1.13)" font-size="12.6" text-anchor="end" letter-spacing="0.45">0</text>
<text transform="translate(384.05,232.27) scale(1.0,1.13)" font-size="12.6" text-anchor="end" letter-spacing="0.45">20</text>
<text transform="translate(384.05,204.69) scale(1.0,1.13)" font-size="12.6" text-anchor="end" letter-spacing="0.45">40</text>
<text transform="translate(384.05,177.11) scale(1.0,1.13)" font-size="12.6" text-anchor="end" letter-spacing="0.45">60</text>
<text transform="translate(384.05,149.53) scale(1.0,1.13)" font-size="12.6" text-anchor="end" letter-spacing="0.45">80</text>
<text transform="translate(384.05,121.95) scale(1.0,1.13)" font-size="12.6" text-anchor="end" letter-spacing="0.45">100</text>
<text transform="translate(384.05,94.37) scale(1.0,1.13)" font-size="12.6" text-anchor="end" letter-spacing="0.45">120</text>
<text transform="translate(384.05,66.79) scale(1.0,1.13)" font-size="12.6" text-anchor="end" letter-spacing="0.45">140</text>
<text transform="translate(421.30,271.00) scale(1.0,1.13)" font-size="12.6" text-anchor="middle" letter-spacing="0.45">600</text>
<text transform="translate(473.93,271.00) scale(1.0,1.13)" font-size="12.6" text-anchor="middle" letter-spacing="0.45">650</text>
<text transform="translate(526.55,271.00) scale(1.0,1.13)" font-size="12.6" text-anchor="middle" letter-spacing="0.45">700</text>
<text transform="translate(579.17,271.00) scale(1.0,1.13)" font-size="12.6" text-anchor="middle" letter-spacing="0.45">750</text>
<text transform="translate(631.80,271.00) scale(1.0,1.13)" font-size="12.6" text-anchor="middle" letter-spacing="0.45">800</text>
<text transform="translate(354.80,161.50) rotate(-90)" font-size="13.5" text-anchor="middle">Fluorescence Intensity / a.u.</text>
<text transform="translate(509.80,287.60) scale(1.0,1.06)" font-size="13.3" text-anchor="middle">Wavelength / nm</text>
<text transform="translate(586.30,56.60)" font-size="13.6" text-anchor="middle" style="fill:#3a3a3a;stroke:#3a3a3a">[p2-23]</text>
<text transform="translate(613.30,77.00) scale(1.0,1.06)" font-size="13.6" text-anchor="end" style="fill:#111111;stroke:#111111">0 <tspan style="font-family:Liberation Serif;stroke-width:0">&#956;</tspan>M</text>
<text transform="translate(613.30,93.70) scale(1.0,1.06)" font-size="13.6" text-anchor="end" style="fill:#f8902a;stroke:#f8902a">5.0 <tspan style="font-family:Liberation Serif;stroke-width:0">&#956;</tspan>M</text>
<text transform="translate(613.30,110.40) scale(1.0,1.06)" font-size="13.6" text-anchor="end" style="fill:#18862a;stroke:#18862a">10 <tspan style="font-family:Liberation Serif;stroke-width:0">&#956;</tspan>M</text>
<text transform="translate(613.30,127.00) scale(1.0,1.06)" font-size="13.6" text-anchor="end" style="fill:#1818d8;stroke:#1818d8">50 <tspan style="font-family:Liberation Serif;stroke-width:0">&#956;</tspan>M</text>
</g>
<path d="M0.5,0 V301 M684.5,0 V301 M0,0.5 H685 M0,300.5 H685" stroke="#f9f9f9" stroke-width="1" fill="none"/>
</svg>
</body></html>
